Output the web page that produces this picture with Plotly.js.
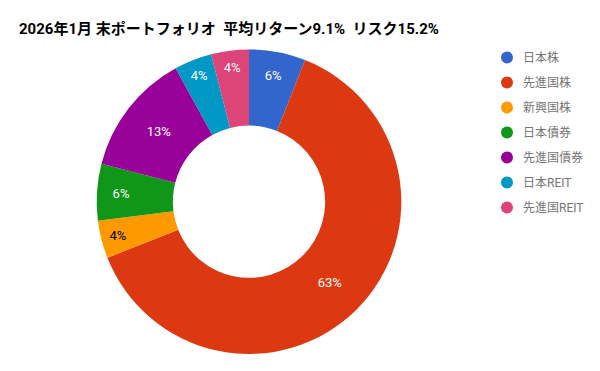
<!DOCTYPE html>
<html>
<head>
<meta charset="utf-8">
<script src="https://cdn.plot.ly/plotly-3.0.1.min.js"></script>
<style>
html,body{margin:0;padding:0;background:#fff;}
#chart{width:600px;height:371px;}
</style>
</head>
<body>
<div id="chart"></div>
<script>
const titleText = '2026年1月 末ポートフォリオ\u00a0\u00a0平均リターン9.1%\u00a0\u00a0リスク15.2%';
const categories = ['日本株', '先進国株', '新興国株', '日本債券', '先進国債券', '日本REIT', '先進国REIT'];
const values = [6, 63, 4, 6, 13, 4, 4];
const colors = ['#3366cc', '#dc3912', '#ff9900', '#109618', '#990099', '#0099c6', '#dd4477'];
const labelColors = ['#ffffff', '#ffffff', '#000000', '#ffffff', '#ffffff', '#ffffff', '#ffffff'];

const W = 600, H = 371;
const FONT = "Roboto, 'Noto Sans CJK JP', sans-serif";

// pie geometry (pixels)
const cx = 249, cy = 201.7, R = 152.3;

const shapes = [];
const annotations = [];
const legendX = 507, legendTextX = 521, legendY0 = 57.5, legendStep = 25;
categories.forEach((c, i) => {
  const yy = 1 - (legendY0 + i * legendStep) / H;
  shapes.push({
    type: 'circle', xref: 'paper', yref: 'paper',
    xsizemode: 'pixel', ysizemode: 'pixel',
    xanchor: legendX / W, yanchor: yy,
    x0: -6, x1: 6, y0: -6, y1: 6,
    fillcolor: colors[i], line: {width: 0}
  });
  annotations.push({
    xref: 'paper', yref: 'paper', x: legendTextX / W, y: yy,
    xanchor: 'left', yanchor: 'middle', showarrow: false,
    text: c, font: {family: FONT, size: 12, color: '#757575'}
  });
});

const data = [{
  type: 'pie',
  labels: categories,
  values: values,
  sort: false,
  direction: 'clockwise',
  rotation: 0,
  hole: 0.5,
  marker: {colors: colors, line: {width: 0}},
  textinfo: 'percent',
  texttemplate: '%{percent:.0%}',
  textposition: 'inside',
  insidetextorientation: 'horizontal',
  textfont: {family: FONT, size: 13, color: labelColors},
  showlegend: false,
  domain: {
    x: [(cx - R) / W, (cx + R) / W],
    y: [(H - cy - R) / H, (H - cy + R) / H]
  }
}];

const layout = {
  width: W, height: H,
  margin: {l: 0, r: 0, t: 0, b: 0},
  paper_bgcolor: '#ffffff',
  plot_bgcolor: '#ffffff',
  showlegend: false,
  font: {family: FONT},
  title: {
    text: '<b>' + titleText + '</b>',
    font: {family: FONT, size: 15, color: '#000000'},
    xref: 'container', yref: 'container',
    x: 19 / W, xanchor: 'left',
    y: 1 - 28.5 / H, yanchor: 'middle'
  },
  shapes: shapes,
  annotations: annotations
};

Plotly.newPlot('chart', data, layout, {displayModeBar: false, staticPlot: true});
</script>
</body>
</html>
